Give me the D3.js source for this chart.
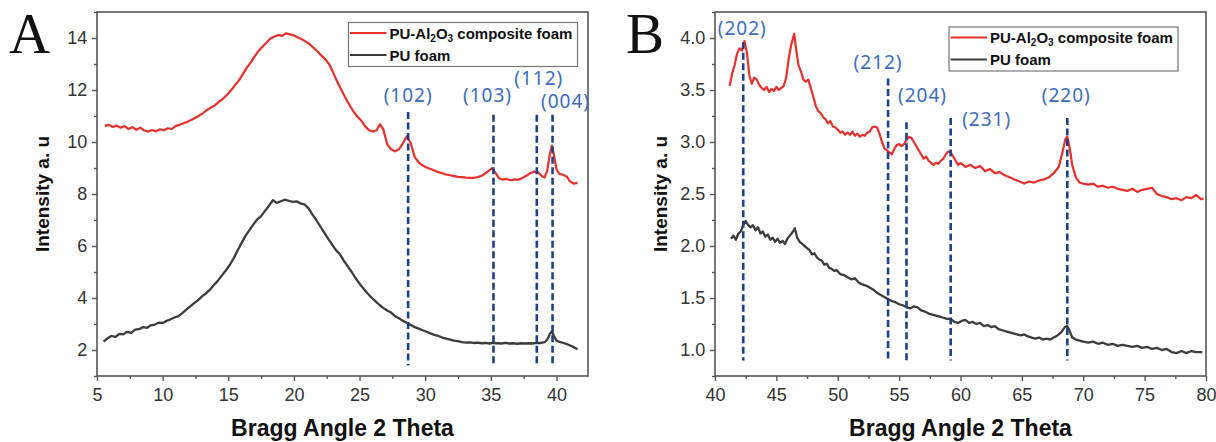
<!DOCTYPE html>
<html>
<head>
<meta charset="utf-8">
<script src="https://cdn.jsdelivr.net/npm/d3@7"></script>
<style>
  body { margin: 0; background: #fff; }
  svg { display: block; }
</style>
</head>
<body>
<svg id="chart" width="1216" height="442"></svg>
<script>
// ---- data ----
const compositeA = [[5.6,10.62],[5.9,10.66],[6.2,10.58],[6.5,10.63],[6.8,10.55],[7.1,10.61],[7.4,10.50],[7.7,10.57],[8.0,10.47],[8.3,10.55],[8.6,10.44],[8.9,10.40],[9.2,10.46],[9.5,10.41],[9.8,10.49],[10.1,10.45],[10.4,10.53],[10.7,10.50],[11.0,10.62],[11.3,10.66],[11.6,10.72],[11.9,10.78],[12.2,10.86],[12.5,10.93],[12.8,11.02],[13.1,11.12],[13.4,11.24],[13.7,11.33],[14.0,11.42],[14.3,11.55],[14.6,11.66],[14.9,11.82],[15.2,11.98],[15.5,12.18],[15.8,12.36],[16.1,12.60],[16.4,12.85],[16.7,13.05],[17.0,13.28],[17.3,13.50],[17.6,13.66],[17.9,13.82],[18.2,13.98],[18.5,14.05],[18.8,14.12],[19.1,14.08],[19.4,14.18],[19.7,14.14],[20.0,14.10],[20.3,14.02],[20.6,13.95],[20.9,13.86],[21.2,13.76],[21.5,13.62],[21.8,13.48],[22.1,13.32],[22.4,13.18],[22.7,12.98],[23.0,12.66],[23.3,12.32],[23.6,12.02],[23.9,11.72],[24.2,11.45],[24.5,11.20],[24.8,11.00],[25.1,10.84],[25.4,10.62],[25.7,10.46],[26.0,10.40],[26.3,10.45],[26.55,10.68],[26.8,10.50],[27.1,9.92],[27.4,9.72],[27.7,9.64],[28.0,9.72],[28.3,9.95],[28.6,10.22],[28.9,9.95],[29.2,9.42],[29.5,9.22],[29.8,9.10],[30.1,9.02],[30.4,8.96],[30.7,8.90],[31.0,8.84],[31.3,8.80],[31.6,8.75],[31.9,8.72],[32.2,8.69],[32.5,8.66],[32.8,8.65],[33.1,8.63],[33.4,8.62],[33.7,8.62],[34.0,8.65],[34.3,8.70],[34.6,8.80],[34.9,8.92],[35.1,8.99],[35.35,8.82],[35.6,8.62],[35.9,8.55],[36.2,8.58],[36.5,8.53],[36.8,8.56],[37.1,8.55],[37.4,8.62],[37.7,8.70],[38.0,8.80],[38.3,8.86],[38.6,8.84],[38.9,8.68],[39.1,8.64],[39.3,8.90],[39.5,9.55],[39.65,9.86],[39.8,9.52],[40.0,8.95],[40.2,8.78],[40.5,8.74],[40.8,8.66],[41.0,8.50],[41.3,8.40],[41.6,8.43]];

const foamA = [[5.5,2.32],[5.8,2.45],[6.1,2.54],[6.4,2.50],[6.7,2.62],[7.0,2.60],[7.3,2.70],[7.6,2.66],[7.9,2.78],[8.2,2.80],[8.5,2.88],[8.8,2.85],[9.1,2.95],[9.4,2.98],[9.7,3.05],[10.0,3.04],[10.3,3.12],[10.6,3.18],[10.9,3.25],[11.2,3.30],[11.5,3.42],[11.8,3.55],[12.1,3.68],[12.4,3.80],[12.7,3.92],[13.0,4.06],[13.3,4.18],[13.6,4.32],[13.9,4.50],[14.2,4.66],[14.5,4.86],[14.8,5.05],[15.1,5.26],[15.4,5.52],[15.7,5.82],[16.0,6.10],[16.3,6.38],[16.6,6.60],[16.9,6.82],[17.2,7.02],[17.5,7.15],[17.8,7.35],[18.1,7.55],[18.4,7.76],[18.7,7.66],[19.0,7.72],[19.3,7.78],[19.6,7.74],[19.9,7.70],[20.2,7.72],[20.5,7.64],[20.8,7.60],[21.1,7.46],[21.4,7.22],[21.7,7.00],[22.0,6.76],[22.3,6.52],[22.6,6.28],[22.9,6.06],[23.2,5.84],[23.5,5.68],[23.8,5.44],[24.1,5.22],[24.4,5.00],[24.7,4.76],[25.0,4.55],[25.3,4.36],[25.6,4.18],[25.9,4.02],[26.2,3.88],[26.5,3.74],[26.8,3.62],[27.1,3.52],[27.4,3.44],[27.7,3.30],[28.0,3.22],[28.3,3.12],[28.6,3.05],[28.9,2.96],[29.2,2.88],[29.5,2.82],[29.8,2.76],[30.1,2.70],[30.4,2.64],[30.7,2.58],[31.0,2.54],[31.3,2.48],[31.6,2.44],[31.9,2.40],[32.2,2.36],[32.5,2.34],[32.8,2.30],[33.1,2.28],[33.4,2.29],[33.7,2.27],[34.0,2.28],[34.3,2.26],[34.6,2.27],[34.9,2.25],[35.2,2.27],[35.5,2.26],[35.8,2.25],[36.1,2.27],[36.4,2.25],[36.7,2.26],[37.0,2.24],[37.3,2.26],[37.6,2.25],[37.9,2.26],[38.2,2.25],[38.5,2.27],[38.8,2.27],[39.1,2.30],[39.3,2.40],[39.5,2.62],[39.65,2.72],[39.8,2.55],[40.0,2.36],[40.3,2.30],[40.6,2.26],[40.9,2.20],[41.2,2.14],[41.5,2.06],[41.6,2.03]];

const compositeB = [[41.2,3.54],[41.4,3.66],[41.6,3.74],[41.8,3.85],[42.0,3.90],[42.2,3.88],[42.4,3.97],[42.6,3.86],[42.8,3.64],[43.0,3.56],[43.2,3.62],[43.4,3.60],[43.6,3.55],[43.8,3.52],[44.0,3.50],[44.2,3.53],[44.4,3.48],[44.6,3.51],[44.8,3.49],[45.0,3.53],[45.2,3.50],[45.4,3.52],[45.6,3.54],[45.8,3.62],[46.0,3.80],[46.2,3.93],[46.45,4.04],[46.6,3.90],[46.8,3.74],[47.0,3.68],[47.2,3.60],[47.4,3.58],[47.6,3.60],[47.8,3.52],[48.0,3.44],[48.2,3.35],[48.4,3.30],[48.6,3.28],[48.8,3.24],[49.0,3.22],[49.2,3.18],[49.4,3.20],[49.6,3.15],[49.8,3.14],[50.0,3.12],[50.2,3.09],[50.4,3.10],[50.6,3.07],[50.8,3.09],[51.0,3.07],[51.2,3.10],[51.4,3.06],[51.6,3.08],[51.8,3.05],[52.0,3.07],[52.2,3.06],[52.4,3.09],[52.6,3.10],[52.8,3.14],[53.0,3.15],[53.2,3.14],[53.4,3.08],[53.6,3.00],[53.8,2.94],[54.0,2.92],[54.2,2.90],[54.4,2.88],[54.6,2.93],[54.8,2.97],[55.0,2.98],[55.2,2.96],[55.4,2.98],[55.6,3.02],[55.8,3.05],[56.0,3.04],[56.2,3.00],[56.4,2.96],[56.6,2.92],[56.8,2.88],[57.0,2.84],[57.2,2.86],[57.4,2.82],[57.6,2.80],[57.8,2.78],[58.0,2.80],[58.2,2.79],[58.4,2.82],[58.6,2.84],[58.8,2.88],[59.0,2.91],[59.2,2.90],[59.4,2.86],[59.6,2.82],[59.8,2.78],[60.0,2.80],[60.4,2.76],[60.8,2.78],[61.2,2.75],[61.6,2.77],[62.0,2.72],[62.4,2.74],[62.8,2.70],[63.2,2.71],[63.6,2.68],[64.0,2.66],[64.4,2.64],[64.8,2.62],[65.2,2.60],[65.6,2.62],[66.0,2.61],[66.4,2.63],[66.8,2.64],[67.2,2.66],[67.6,2.70],[68.0,2.76],[68.3,2.90],[68.55,3.03],[68.7,3.05],[68.9,2.94],[69.1,2.78],[69.4,2.66],[69.7,2.61],[70.0,2.60],[70.4,2.59],[70.8,2.60],[71.2,2.57],[71.6,2.58],[72.0,2.56],[72.4,2.57],[72.8,2.55],[73.2,2.54],[73.6,2.53],[74.0,2.55],[74.4,2.52],[74.8,2.54],[75.2,2.55],[75.6,2.56],[76.0,2.50],[76.4,2.48],[76.8,2.47],[77.2,2.45],[77.6,2.46],[78.0,2.44],[78.4,2.47],[78.8,2.46],[79.2,2.49],[79.6,2.45],[79.8,2.46]];

const foamB = [[41.3,2.07],[41.5,2.10],[41.7,2.06],[41.9,2.12],[42.1,2.14],[42.3,2.20],[42.5,2.24],[42.7,2.20],[42.9,2.18],[43.1,2.20],[43.3,2.15],[43.5,2.18],[43.7,2.12],[43.9,2.14],[44.1,2.09],[44.3,2.11],[44.5,2.06],[44.7,2.08],[44.9,2.04],[45.1,2.07],[45.3,2.03],[45.5,2.05],[45.7,2.02],[45.9,2.07],[46.1,2.10],[46.3,2.13],[46.5,2.17],[46.7,2.08],[46.9,2.04],[47.1,2.02],[47.3,2.00],[47.5,1.98],[47.7,1.96],[47.9,1.92],[48.1,1.93],[48.3,1.89],[48.5,1.87],[48.7,1.86],[48.9,1.82],[49.1,1.83],[49.3,1.79],[49.5,1.78],[49.7,1.76],[49.9,1.77],[50.2,1.73],[50.5,1.72],[50.8,1.70],[51.1,1.68],[51.4,1.69],[51.7,1.65],[52.0,1.63],[52.3,1.62],[52.6,1.60],[52.9,1.58],[53.2,1.55],[53.5,1.53],[53.8,1.51],[54.1,1.49],[54.4,1.47],[54.7,1.46],[55.0,1.44],[55.3,1.43],[55.6,1.41],[55.9,1.40],[56.2,1.42],[56.5,1.41],[56.8,1.38],[57.1,1.37],[57.4,1.35],[57.7,1.34],[58.0,1.33],[58.3,1.32],[58.6,1.31],[58.9,1.30],[59.2,1.30],[59.5,1.27],[59.8,1.26],[60.1,1.28],[60.4,1.29],[60.7,1.26],[61.0,1.27],[61.3,1.25],[61.6,1.26],[61.9,1.23],[62.2,1.24],[62.5,1.22],[62.8,1.23],[63.1,1.20],[63.4,1.19],[63.7,1.18],[64.0,1.17],[64.3,1.16],[64.6,1.15],[64.9,1.14],[65.2,1.15],[65.5,1.13],[65.8,1.12],[66.1,1.11],[66.4,1.12],[66.7,1.10],[67.0,1.11],[67.3,1.10],[67.6,1.12],[67.9,1.14],[68.2,1.17],[68.5,1.22],[68.7,1.23],[68.9,1.18],[69.1,1.12],[69.4,1.10],[69.7,1.09],[70.0,1.08],[70.4,1.07],[70.8,1.08],[71.2,1.06],[71.6,1.07],[72.0,1.05],[72.4,1.06],[72.8,1.04],[73.2,1.05],[73.6,1.04],[74.0,1.03],[74.4,1.04],[74.8,1.02],[75.2,1.03],[75.6,1.01],[76.0,1.02],[76.4,1.00],[76.8,1.01],[77.2,0.98],[77.6,0.97],[78.0,0.99],[78.4,0.97],[78.8,0.99],[79.2,0.98],[79.7,0.98]];

// peak markers: hkl label, 2theta, top of dashed line (intensity)
const peakLabelsA = ["(102)", "(103)", "(112)", "(004)"];
const peakPosA = [28.7, 35.2, 38.5, 39.7];
const peakTopA = [11.15, 11.05, 11.05, 11.05];
const peakLabelsB = ["(202)", "(212)", "(204)", "(231)", "(220)"];
const peakPosB = [42.3, 54.1, 55.6, 59.2, 68.7];
const peakTopB = [3.96, 3.61, 3.19, 3.23, 3.23];

const seriesNames = ["PU-Al\u2082O\u2083 composite foam", "PU foam"];
const xTicksA = [5, 10, 15, 20, 25, 30, 35, 40];
const yTicksA = [2, 4, 6, 8, 10, 12, 14];
const xTicksB = [40, 45, 50, 55, 60, 65, 70, 75, 80];
const yTicksB = [1.0, 1.5, 2.0, 2.5, 3.0, 3.5, 4.0];

// ---- layout ----
const svg = d3.select("#chart");
const RED = "#e8302c", DARK = "#3c3c3c", BLUE_LINE = "#1f3f8c", BLUE_TXT = "#3d6cc0";
const plotTop = 12, plotBottom = 376;

// label offsets (px) relative to the dashed line
const labelOffA = [[0, 95], [-6, 95], [2, 78], [13, 101]];
const labelOffB = [[-1, 28], [-10, 62], [16, 95], [36, 119], [-1, 95]];

function panel(opts) {
  const x = d3.scaleLinear().domain(opts.xDomain).range([opts.left, opts.right]);
  const y = d3.scaleLinear().domain(opts.yDomain).range([plotBottom, plotTop]);
  const g = svg.append("g");

  // minor + major ticks, outward
  const xAxis = d3.axisBottom(x).tickValues(opts.xTicks).tickSize(5).tickFormat(d3.format("d"));
  const xMinor = d3.axisBottom(x).tickValues(opts.xMinor).tickSize(3).tickFormat("");
  const yAxis = d3.axisLeft(y).tickValues(opts.yTicks).tickSize(5).tickFormat(opts.yFormat);
  const yMinor = d3.axisLeft(y).tickValues(opts.yMinor).tickSize(3).tickFormat("");

  [[xMinor, "x"], [xAxis, "x"], [yMinor, "y"], [yAxis, "y"]].forEach(([ax, k]) => {
    const a = g.append("g")
      .attr("transform", k === "x" ? `translate(0,${plotBottom})` : `translate(${opts.left},0)`)
      .call(ax);
    a.select(".domain").remove();
    a.selectAll(".tick line").attr("stroke", "#555").attr("stroke-width", 1.4);
    a.selectAll(".tick text")
      .attr("font-family", "Liberation Sans, Arial, sans-serif")
      .attr("font-size", 18).attr("fill", "#333");
    if (k === "x") a.selectAll(".tick text").attr("dy", "0.95em");
    else a.selectAll(".tick text").attr("dx", "-0.1em");
  });

  // frame
  g.append("rect")
    .attr("x", opts.left).attr("y", plotTop)
    .attr("width", opts.right - opts.left).attr("height", plotBottom - plotTop)
    .attr("fill", "none").attr("stroke", "#555").attr("stroke-width", 1.6);

  const line = d3.line().x(d => x(d[0])).y(d => y(d[1]));
  g.append("path").datum(opts.foam).attr("d", line)
    .attr("fill", "none").attr("stroke", DARK).attr("stroke-width", 2.3).attr("stroke-linejoin", "round");
  g.append("path").datum(opts.comp).attr("d", line)
    .attr("fill", "none").attr("stroke", RED).attr("stroke-width", 2.2).attr("stroke-linejoin", "round");

  // dashed peak lines
  opts.peakPos.forEach((p, i) => {
    g.append("line")
      .attr("x1", x(p)).attr("x2", x(p))
      .attr("y1", y(opts.peakTop[i])).attr("y2", y(opts.peakBottom))
      .attr("stroke", BLUE_LINE).attr("stroke-width", 2.6)
      .attr("stroke-dasharray", "7,3.5");
    g.append("text")
      .attr("x", x(p) + opts.labelOff[i][0]).attr("y", opts.labelOff[i][1])
      .attr("text-anchor", "middle").attr("dominant-baseline", "central")
      .attr("font-family", "Noto Sans, sans-serif").attr("font-size", 19)
      .attr("letter-spacing", 1).attr("fill", BLUE_TXT)
      .text(opts.peakLabels[i]);
  });

  // legend
  const lg = g.append("g").attr("transform", `translate(${opts.legend[0]},${opts.legend[1]})`);
  lg.append("rect").attr("width", 229).attr("height", 44)
    .attr("fill", "#fff").attr("stroke", "#777").attr("stroke-width", 1.2);
  [[RED, 10.5], [DARK, 32.5]].forEach(([c, yy], i) => {
    lg.append("line").attr("x1", 1.5).attr("x2", 38).attr("y1", yy).attr("y2", yy)
      .attr("stroke", c).attr("stroke-width", 2);
    const t = lg.append("text").attr("x", 41).attr("y", yy + 5.5)
      .attr("font-family", "Liberation Sans, Arial, sans-serif")
      .attr("font-weight", "bold").attr("font-size", 15).attr("fill", "#111");
    if (i === 0) {
      t.append("tspan").text("PU-Al");
      t.append("tspan").attr("font-size", 10).attr("dy", 3).text("2");
      t.append("tspan").attr("dy", -3).text("O");
      t.append("tspan").attr("font-size", 10).attr("dy", 3).text("3");
      t.append("tspan").attr("dy", -3).text(" composite foam");
    } else {
      t.text(seriesNames[1]);
    }
  });

  // axis titles
  const cx = (opts.left + opts.right) / 2;
  g.append("text").attr("x", cx).attr("y", 436).attr("text-anchor", "middle")
    .attr("font-family", "Liberation Sans, Arial, sans-serif").attr("font-weight", "bold")
    .attr("font-size", 23).attr("fill", "#111").text("Bragg Angle 2 Theta");
  g.append("text")
    .attr("transform", `translate(${opts.left - 55},${(plotTop + plotBottom) / 2}) rotate(-90)`)
    .attr("text-anchor", "middle").attr("dominant-baseline", "central")
    .attr("font-family", "Liberation Sans, Arial, sans-serif").attr("font-weight", "bold")
    .attr("font-size", 19).attr("fill", "#111").text("Intensity a. u");

  // panel letter
  g.append("text").attr("x", opts.letterX).attr("y", 53)
    .attr("font-family", "Liberation Serif, Times New Roman, serif")
    .attr("font-size", 57).attr("fill", "#111").text(opts.letter);
}

panel({
  letter: "A", letterX: 9,
  left: 97, right: 588,
  xDomain: [5, 42.4], yDomain: [1, 15],
  xTicks: xTicksA, xMinor: d3.range(7.5, 42.4, 5),
  yTicks: yTicksA, yMinor: d3.range(1, 15.1, 2),
  yFormat: d3.format("d"),
  comp: compositeA, foam: foamA,
  peakPos: peakPosA, peakTop: peakTopA, peakBottom: 1.4, peakLabels: peakLabelsA, labelOff: labelOffA,
  legend: [348.5, 22.5]
});

panel({
  letter: "B", letterX: 626,
  left: 715, right: 1206,
  xDomain: [40, 80], yDomain: [0.75, 4.25],
  xTicks: xTicksB, xMinor: d3.range(42.5, 80, 5),
  yTicks: yTicksB, yMinor: d3.range(0.75, 4.26, 0.5),
  yFormat: d3.format(".1f"),
  comp: compositeB, foam: foamB,
  peakPos: peakPosB, peakTop: peakTopB, peakBottom: 0.9, peakLabels: peakLabelsB, labelOff: labelOffB,
  legend: [949, 27]
});
</script>
</body>
</html>
